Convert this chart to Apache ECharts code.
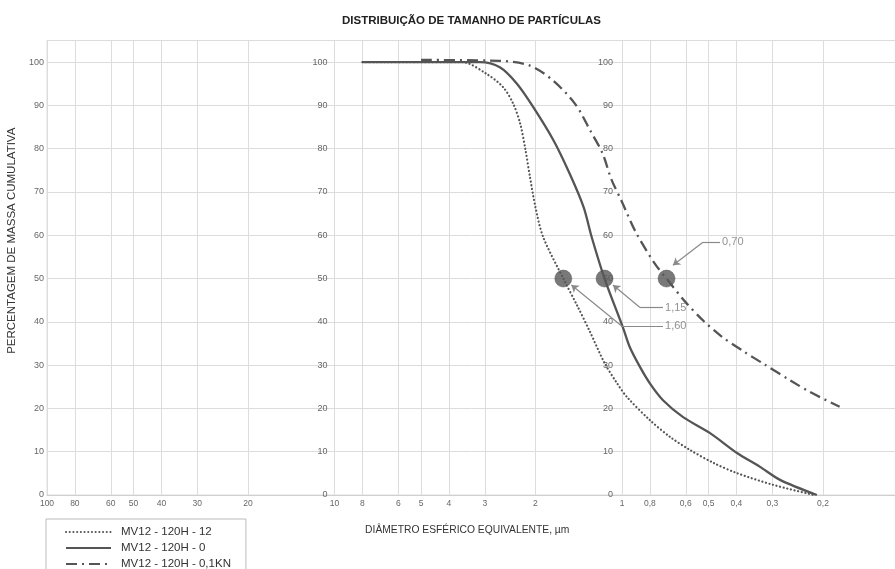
<!DOCTYPE html>
<html>
<head>
<meta charset="utf-8">
<script src="https://cdn.jsdelivr.net/npm/echarts@6/dist/echarts.min.js"></script>
<style>html,body{margin:0;padding:0;background:#fff}#c{width:895px;height:569px}</style>
</head>
<body>
<div id="c"></div>
<script>
const xTicks = [100, 80, 60, 50, 40, 30, 20, 10, 8, 6, 5, 4, 3, 2, 1, 0.8, 0.6, 0.5, 0.4, 0.3, 0.2];
const seriesNames = ['MV12 - 120H - 12', 'MV12 - 120H - 0', 'MV12 - 120H - 0,1KN'];
const dotted = [[8,100],[3.6,100],[2.96,97.3],[2.59,94.2],[2.39,90.4],[2.26,85.8],[2.17,80],[2.09,73.5],[2.0,66.5],[1.88,59.6],[1.6,50],[1.43,43.7],[1.29,37.6],[1.15,30.5],[1.04,25.8],[0.96,22.6],[0.8,17.3],[0.68,13.4],[0.58,10.4],[0.48,7.4],[0.4,5.1],[0.3,2.4],[0.215,0]];
const solid = [[8,100],[3.12,100],[2.66,98.8],[2.32,95],[2.035,89.6],[1.73,81.9],[1.52,74.2],[1.36,66.5],[1.275,59.6],[1.15,50],[0.99,38.5],[0.94,34.2],[0.866,29.6],[0.8,25.8],[0.72,21.9],[0.613,18],[0.494,14.3],[0.398,9.7],[0.331,6.5],[0.282,3.5],[0.21,0]];
const dashDot = [[5,100.5],[2.66,100.3],[2.09,99.2],[1.74,95.8],[1.45,90.2],[1.29,84.2],[1.17,79],[1.09,73],[1.0,67.7],[0.9,61],[0.77,53.5],[0.7,50],[0.6,44.5],[0.52,40.2],[0.45,36.6],[0.38,33.3],[0.32,30.2],[0.26,26.5],[0.222,23.8],[0.175,20.4]];
const d50 = [1.60, 1.15, 0.70];
// annotation leader geometry (data units): label anchor, elbow, arrow tip
const notes = [
  {text:'1,60', label:[0.72,39], elbow:[1.0,39], tip:[1.5,48.5]},
  {text:'1,15', label:[0.72,43.3], elbow:[0.866,43.3], tip:[1.075,48.5]},
  {text:'0,70', label:[0.456,58.4], elbow:[0.523,58.4], tip:[0.665,53.1]}
];

const font = 'Liberation Sans, Arial, sans-serif';
const lineColor = '#555';
const chart = echarts.init(document.getElementById('c'));

const markData = [];
notes.forEach(n => {
  markData.push([{coord:n.label, symbol:'none'},{coord:n.elbow, symbol:'none'}]);
  markData.push([{coord:n.elbow, symbol:'none'},{coord:n.tip, symbol:'arrow'}]);
});

const yBase = {
  type:'value', min:0, max:105, interval:10, position:'left',
  axisLine:{show:false}, axisTick:{show:false},
  axisLabel:{fontFamily:font, fontSize:9, color:'#666', formatter:v => v > 100 ? '' : String(v)}
};

chart.setOption({
  animation:false,
  title:{text:'DISTRIBUIÇÃO DE TAMANHO DE PARTÍCULAS', left:337, top:10,
    textStyle:{fontFamily:font, fontSize:11.5, fontWeight:'bold', color:'#222'}},
  grid:{left:47, top:40.5, width:862.5, height:454.5, show:true, borderColor:'#dedede', borderWidth:1,
    containLabel:false, outerBoundsMode:'none'},
  legend:{orient:'vertical', left:46, top:519, height:80, itemWidth:45, itemHeight:10, itemGap:4,
    padding:[7,15,8,19], borderColor:'#bbb', borderWidth:1,
    itemStyle:{opacity:0},
    textStyle:{fontFamily:font, fontSize:11.5, color:'#333', padding:[0,0,0,5]},
    data:seriesNames},
  xAxis:{type:'log', logBase:10, inverse:true, min:0.1, max:100,
    name:'DIÂMETRO ESFÉRICO EQUIVALENTE, µm', nameLocation:'middle', nameGap:30,
    nameTextStyle:{fontFamily:font, fontSize:10.3, color:'#333', padding:[0,22,0,0]},
    axisLine:{show:true, onZero:false, lineStyle:{color:'#cfcfcf'}},
    axisTick:{show:false, customValues:xTicks},
    axisLabel:{customValues:xTicks, fontFamily:font, fontSize:8.5, color:'#666', margin:4,
      formatter:v => String(+v.toPrecision(6)).replace('.', ',')},
    splitLine:{show:true, lineStyle:{color:'#dcdcdc', width:1}}
  },
  yAxis:[
    Object.assign({}, yBase, {
      name:'PERCENTAGEM DE MASSA CUMULATIVA', nameLocation:'middle', nameGap:23,
      nameTextStyle:{fontFamily:font, fontSize:11.5, color:'#333', padding:[0,0,0,54]},
      axisLabel:Object.assign({}, yBase.axisLabel, {margin:3}),
      splitLine:{show:true, lineStyle:{color:'#dcdcdc', width:1}}
    }),
    Object.assign({}, yBase, {offset:-287.5, splitLine:{show:false}, axisLabel:Object.assign({}, yBase.axisLabel, {margin:7})}),
    Object.assign({}, yBase, {offset:-575, splitLine:{show:false}, axisLabel:Object.assign({}, yBase.axisLabel, {margin:9})})
  ],
  series:[
    {name:seriesNames[0], type:'line', data:dotted, showSymbol:false, symbol:'none', smooth:0.3,
      lineStyle:{color:lineColor, width:2.2, type:[0.1,3.6], cap:'round'}, itemStyle:{color:lineColor}},
    {name:seriesNames[1], type:'line', data:solid, showSymbol:false, symbol:'none', smooth:0.3,
      lineStyle:{color:lineColor, width:2.3}, itemStyle:{color:lineColor}},
    {name:seriesNames[2], type:'line', data:dashDot, showSymbol:false, symbol:'none', smooth:0.3,
      lineStyle:{color:lineColor, width:2.3, type:[11,5,2,5]}, itemStyle:{color:lineColor}},
    {name:'d50', type:'scatter', data:d50.map(v => [v,50]), symbolSize:17, z:5,
      itemStyle:{color:'#585858', borderColor:'#444', borderWidth:0.5},
      markLine:{silent:true, symbolSize:7, label:{show:false},
        lineStyle:{color:'#8a8a8a', width:1.2, type:'solid'}, data:markData}},
    {name:'notes', type:'scatter', data:notes.map(n => ({value:n.label, name:n.text})), symbolSize:0.1, z:6,
      label:{show:true, position:'right', distance:2, formatter:p => p.name, fontFamily:font, fontSize:11, color:'#777'}}
  ]
});
</script>
</body>
</html>
